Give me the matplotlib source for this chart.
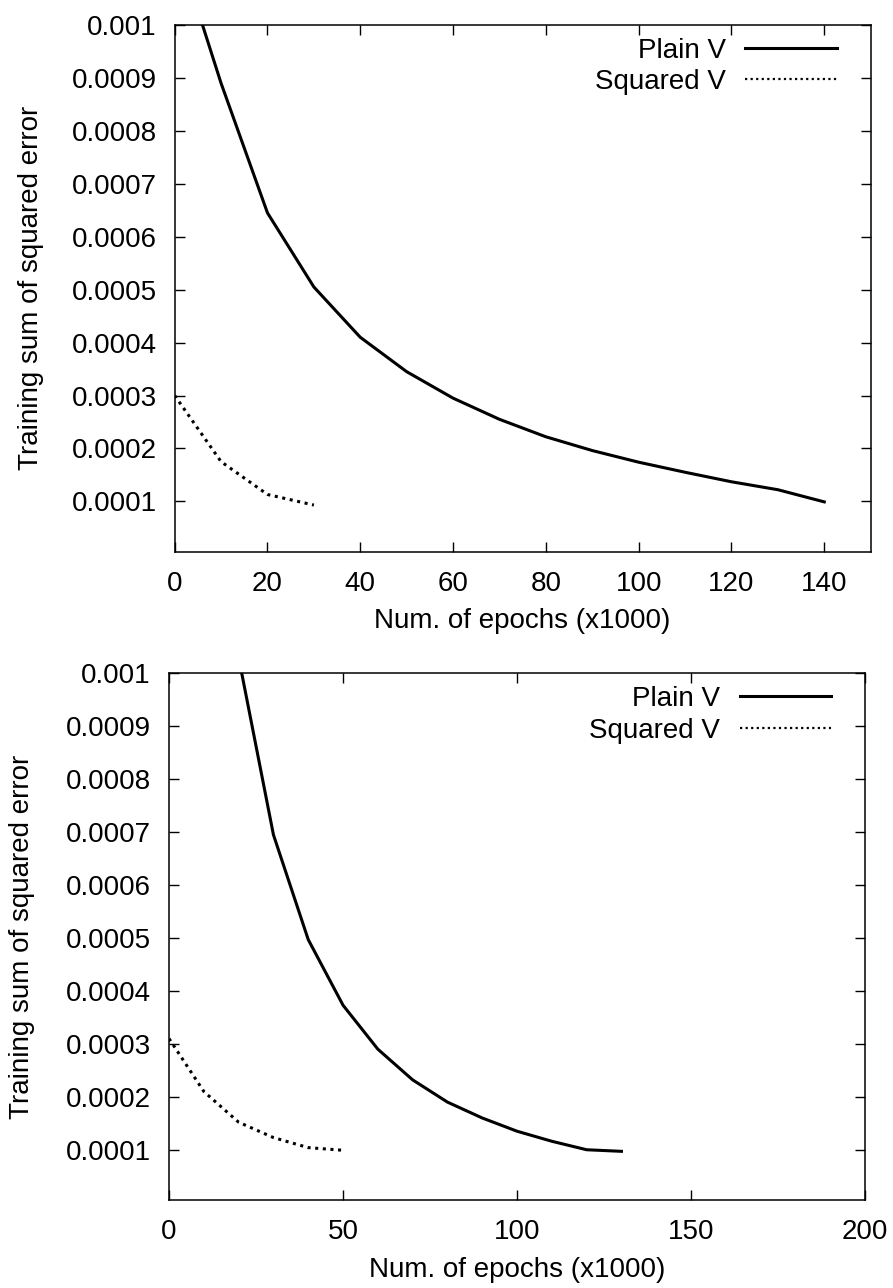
import matplotlib
matplotlib.use("Agg")
import matplotlib.pyplot as plt

plt.rcParams['font.family'] = ['Liberation Sans', 'DejaVu Sans']

# top panel
top_plain_x = [0, 10, 20, 30, 40, 50, 60, 70, 80, 90, 100, 110, 120, 130, 140]
top_plain_y = [0.001165, 0.00089, 0.000645, 0.000505, 0.00041, 0.000345, 0.000295,
               0.000255, 0.000222, 0.000196, 0.000174, 0.000155, 0.000137, 0.000122, 0.000099]
top_sq_x = [0, 10, 20, 30]
top_sq_y = [0.0003, 0.000175, 0.000113, 0.000093]

# bottom panel
bot_plain_x = [20, 30, 40, 50, 60, 70, 80, 90, 100, 110, 120, 130]
bot_plain_y = [0.00103, 0.000695, 0.000497, 0.000373, 0.00029, 0.000232, 0.00019,
               0.00016, 0.000135, 0.000116, 0.0001, 0.000097]
bot_sq_x = [0, 10, 20, 30, 40, 50]
bot_sq_y = [0.00031, 0.00021, 0.000152, 0.000123, 0.000104, 0.000099]

y_ticks = [0.0001, 0.0002, 0.0003, 0.0004, 0.0005, 0.0006, 0.0007, 0.0008, 0.0009, 0.001]
y_labels = ['0.0001', '0.0002', '0.0003', '0.0004', '0.0005', '0.0006', '0.0007', '0.0008', '0.0009', '0.001']

FS = 20


def style_axes(ax, xlim, xticks, ylabel_x):
	ax.set_xlim(*xlim)
	ax.set_ylim(0.000005, 0.001)
	ax.set_xticks(xticks)
	ax.set_xticklabels([str(t) for t in xticks])
	ax.set_yticks(y_ticks)
	ax.set_yticklabels(y_labels)
	ax.tick_params(direction='in', length=7, width=1, top=True, right=True, labelsize=FS)
	ax.tick_params(axis='y', pad=13)
	ax.tick_params(axis='x', pad=14)
	for s in ax.spines.values():
		s.set_linewidth(1.1)
	ax.set_xlabel("Num. of epochs (x1000)", fontsize=FS, va='center')
	ax.set_ylabel("Training sum of squared error", fontsize=FS, va='center')
	ax.xaxis.set_label_coords(0.5, -0.132)
	ax.yaxis.set_label_coords(ylabel_x, 0.5)
	leg = ax.legend(loc='upper right', bbox_to_anchor=(0.9516, 0.976), frameon=False,
			  markerfirst=False, fontsize=FS, handlelength=3.3, handletextpad=0.7,
			  borderpad=0, borderaxespad=0, labelspacing=0.2)
	# legend sample of the dotted line is finer in the original
	leg.get_lines()[1].set_linewidth(1.6)


fig = plt.figure(figsize=(8.93, 12.88), dpi=100)
ax1 = fig.add_axes([0.1956, 0.5717, 0.7794, 0.4089])
ax2 = fig.add_axes([0.1893, 0.0683, 0.7794, 0.4089])

ax1.plot(top_plain_x, top_plain_y, color='black', lw=2.2, label='Plain V')
ax1.plot(top_sq_x, top_sq_y, color='black', lw=2.2, linestyle=(0, (1, 1.5)), label='Squared V')
style_axes(ax1, (0, 150), [0, 20, 40, 60, 80, 100, 120, 140], -0.207)

ax2.plot(bot_plain_x, bot_plain_y, color='black', lw=2.2, label='Plain V')
ax2.plot(bot_sq_x, bot_sq_y, color='black', lw=2.2, linestyle=(0, (1, 1.5)), label='Squared V')
style_axes(ax2, (0, 200), [0, 50, 100, 150, 200], -0.211)

fig.savefig("out.png", dpi=100)
